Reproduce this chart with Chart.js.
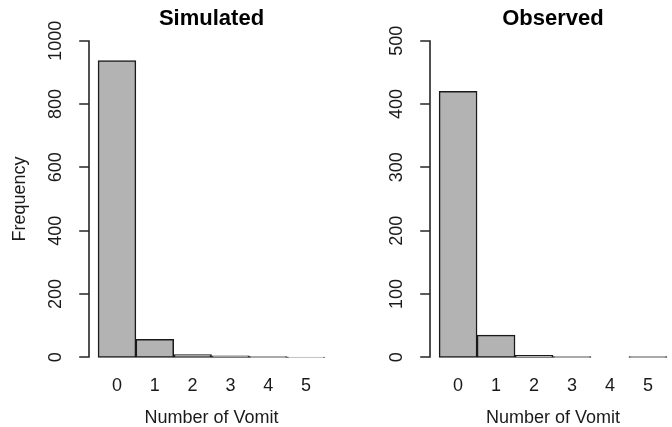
<!DOCTYPE html>
<html>
<head>
<meta charset="utf-8">
<script src="https://cdn.jsdelivr.net/npm/chart.js@4.4.1/dist/chart.umd.min.js"></script>
<style>
  html, body { margin: 0; padding: 0; background: #fff; overflow: hidden; }
  #wrap { position: relative; width: 672px; height: 427px; overflow: hidden; }
  .panel { position: absolute; top: 0; height: 427px; }
  #left { left: 0; width: 336px; }
  #right { left: 336px; width: 340px; }
</style>
</head>
<body>
<div id="wrap">
  <div class="panel" id="left"><canvas id="simulated" width="336" height="427"></canvas></div>
  <div class="panel" id="right"><canvas id="observed" width="340" height="427"></canvas></div>
</div>
<script>
  "use strict";

  var vomitCounts = ['0', '1', '2', '3', '4', '5'];
  var simulatedFreq = [937, 57, 9, 5, 2, 1];
  var observedFreq = [420, 35, 3, 1, 0, 1];
  var simulatedTicks = [0, 200, 400, 600, 800, 1000];
  var observedTicks = [0, 100, 200, 300, 400, 500];

  var ink = '#1a1a1a';
  var fontFamily = '"Liberation Sans", Arial, Helvetica, sans-serif';

  // R-style left axis: line only from first to last tick, rotated labels, centred title
  var rAxisPlugin = function(title) {
    return {
      id: 'rAxis',
      afterDraw: function(chart) {
        var ctx = chart.ctx;
        var area = chart.chartArea;
        var y = chart.scales.y;
        var xLeft = Math.round(area.left);
        var pixels = y.ticks.map(function(t) { return Math.round(y.getPixelForValue(t.value)); });
        var yTopPx = Math.min.apply(null, pixels);
        var yBotPx = Math.max.apply(null, pixels);

        ctx.save();
        ctx.strokeStyle = '#262626';
        ctx.lineWidth = 1.6;
        ctx.lineCap = 'square';
        ctx.beginPath();
        ctx.moveTo(xLeft, yTopPx);
        ctx.lineTo(xLeft, yBotPx);
        pixels.forEach(function(py) {
          ctx.moveTo(xLeft, py);
          ctx.lineTo(xLeft - 9, py);
        });
        ctx.stroke();

        ctx.fillStyle = ink;
        ctx.font = '18px ' + fontFamily;
        ctx.textAlign = 'center';
        ctx.textBaseline = 'middle';
        y.ticks.forEach(function(t) {
          ctx.save();
          ctx.translate(area.left - 33, y.getPixelForValue(t.value));
          ctx.rotate(-Math.PI / 2);
          ctx.fillText(String(t.value), 0, 0);
          ctx.restore();
        });

        ctx.fillStyle = '#000';
        ctx.font = 'bold 22px ' + fontFamily;
        ctx.fillText(title, (area.left + area.right) / 2, 19);
        ctx.restore();
      }
    };
  };

  var makePanel = function(canvasId, title, freq, ticks, showYTitle, axisWidth, padRight) {
    var yTop = ticks[ticks.length - 1];
    var ext = yTop * 0.04;

    return new Chart(canvasId, {
      type: 'bar',
      data: {
        datasets: [{
          data: freq.map(function(v, i) { return { x: i + 0.5, y: v }; }),
          backgroundColor: '#b3b3b3',
          borderColor: '#1a1a1a',
          borderWidth: 1.5,
          borderSkipped: false,
          barPercentage: 1,
          categoryPercentage: 1
        }]
      },
      options: {
        responsive: false,
        animation: false,
        devicePixelRatio: 1,
        layout: { padding: { top: 28, right: padRight, bottom: 0, left: 0 } },
        plugins: {
          legend: { display: false },
          tooltip: { enabled: false },
          title: { display: false }
        },
        scales: {
          x: {
            type: 'linear',
            offset: false,
            min: -0.24,
            max: 6.24,
            grid: { display: false, drawTicks: false },
            border: { display: false },
            afterBuildTicks: function(scale) {
              scale.ticks = vomitCounts.map(function(c, i) { return { value: i + 0.5 }; });
            },
            afterFit: function(scale) { scale.height = 57; },
            ticks: {
              autoSkip: false,
              padding: 5,
              color: ink,
              font: { family: fontFamily, size: 18 },
              callback: function(v, i) { return vomitCounts[i]; }
            },
            title: {
              display: true,
              text: 'Number of Vomit',
              color: ink,
              padding: 0,
              font: { family: fontFamily, size: 18, lineHeight: 1.05 }
            }
          },
          y: {
            min: -ext,
            max: yTop + ext,
            grid: { display: false },
            border: { display: false },
            afterBuildTicks: function(scale) {
              scale.ticks = ticks.map(function(v) { return { value: v }; });
            },
            afterFit: function(scale) { scale.width = axisWidth; },
            ticks: { display: false },
            title: {
              display: showYTitle,
              text: 'Frequency',
              color: ink,
              padding: { top: 9, bottom: 0 },
              font: { family: fontFamily, size: 18 }
            }
          }
        }
      },
      plugins: [rAxisPlugin(title)]
    });
  };

  makePanel('simulated', 'Simulated', simulatedFreq, simulatedTicks, true, 89, 2);
  makePanel('observed', 'Observed', observedFreq, observedTicks, false, 94, 0);
</script>
</body>
</html>
